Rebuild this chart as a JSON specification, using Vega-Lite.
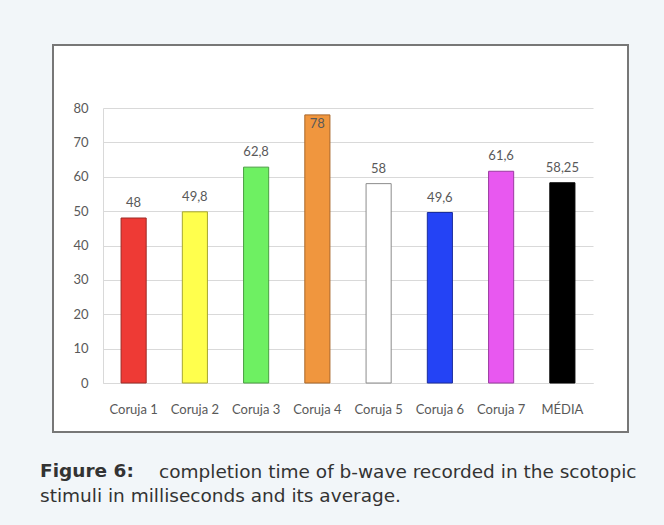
{
  "$schema": "https://vega.github.io/schema/vega-lite/v6.json",
  "width": 575,
  "height": 387,
  "autosize": {"type": "none"},
  "padding": {"left": 53, "top": 45, "right": 36, "bottom": 93},
  "background": "#f2f6f9",
  "data": {
    "values": [
      {"name": "Coruja 1", "value": 48},
      {"name": "Coruja 2", "value": 49.8},
      {"name": "Coruja 3", "value": 62.8},
      {"name": "Coruja 4", "value": 78},
      {"name": "Coruja 5", "value": 58},
      {"name": "Coruja 6", "value": 49.6},
      {"name": "Coruja 7", "value": 61.6},
      {"name": "MÉDIA", "value": 58.25}
    ]
  },
  "title": {
    "text": "Figure 6:",
    "subtitle": "stimuli in milliseconds and its average.",
    "orient": "bottom",
    "anchor": "start",
    "frame": "group",
    "offset": -19,
    "dx": -13,
    "font": "DejaVu Sans",
    "fontSize": 18.5,
    "fontWeight": "bold",
    "color": "#333333",
    "subtitleFont": "DejaVu Sans",
    "subtitleFontSize": 18.5,
    "subtitleFontWeight": "normal",
    "subtitleColor": "#333333",
    "subtitlePadding": 7
  },
  "encoding": {
    "x": {
      "field": "name",
      "type": "nominal",
      "sort": null,
      "scale": {"range": [50, 540], "paddingInner": 0.59, "paddingOuter": 0.295},
      "axis": {
        "title": "completion time of b-wave recorded in the scotopic",
        "titleX": 583,
        "titleY": 94,
        "titleAlign": "right",
        "titleBaseline": "alphabetic",
        "titleAngle": 0,
        "titleFont": "DejaVu Sans",
        "titleFontSize": 18.5,
        "titleFontWeight": "normal",
        "titleColor": "#333333",
        "labelAngle": 0,
        "labelFont": "Lato",
        "labelFontSize": 13,
        "labelColor": "#595959",
        "labelPadding": 20,
        "ticks": false,
        "grid": false,
        "domainColor": "#d9d9d9",
        "domainWidth": 1,
        "offset": -49
      }
    },
    "y": {
      "field": "value",
      "type": "quantitative",
      "scale": {"domain": [0, 80], "range": [338, 63], "nice": false},
      "axis": {
        "title": null,
        "values": [0, 10, 20, 30, 40, 50, 60, 70, 80],
        "offset": -50,
        "labelPadding": 15,
        "labelFont": "Lato",
        "labelFontSize": 13,
        "labelColor": "#595959",
        "ticks": false,
        "domainColor": "#d9d9d9",
        "domainWidth": 1,
        "gridColor": "#d9d9d9",
        "gridWidth": 1
      }
    }
  },
  "layer": [
    {
      "mark": {"type": "bar", "strokeWidth": 1},
      "encoding": {
        "fill": {
          "field": "name",
          "type": "nominal",
          "legend": null,
          "scale": {
            "domain": ["Coruja 1", "Coruja 2", "Coruja 3", "Coruja 4", "Coruja 5", "Coruja 6", "Coruja 7", "MÉDIA"],
            "range": ["#ee3a35", "#ffff4d", "#6ef062", "#f0963e", "#ffffff", "#2443f5", "#e858f0", "#000000"]
          }
        },
        "stroke": {
          "field": "name",
          "type": "nominal",
          "legend": null,
          "scale": {
            "domain": ["Coruja 1", "Coruja 2", "Coruja 3", "Coruja 4", "Coruja 5", "Coruja 6", "Coruja 7", "MÉDIA"],
            "range": ["#9c2a26", "#a6a630", "#4a9e42", "#a86628", "#8c8c8c", "#1a2d9e", "#9a3aa0", "#000000"]
          }
        }
      }
    },
    {
      "transform": [{"filter": "datum.value < 75"}],
      "mark": {"type": "text", "baseline": "alphabetic", "dy": -11, "font": "Lato", "fontSize": 13, "color": "#595959"},
      "encoding": {
        "text": {"field": "value", "type": "quantitative", "format": ".4~g"}
      }
    },
    {
      "transform": [{"filter": "datum.value >= 75"}],
      "mark": {"type": "text", "baseline": "alphabetic", "dy": 13, "font": "Lato", "fontSize": 13, "color": "#595959"},
      "encoding": {
        "text": {"field": "value", "type": "quantitative", "format": ".4~g"}
      }
    }
  ],
  "config": {
    "locale": {
      "number": {"decimal": ",", "thousands": ".", "grouping": [3], "currency": ["", ""]}
    },
    "view": {"fill": "#ffffff", "stroke": "#777777", "strokeWidth": 2}
  }
}
